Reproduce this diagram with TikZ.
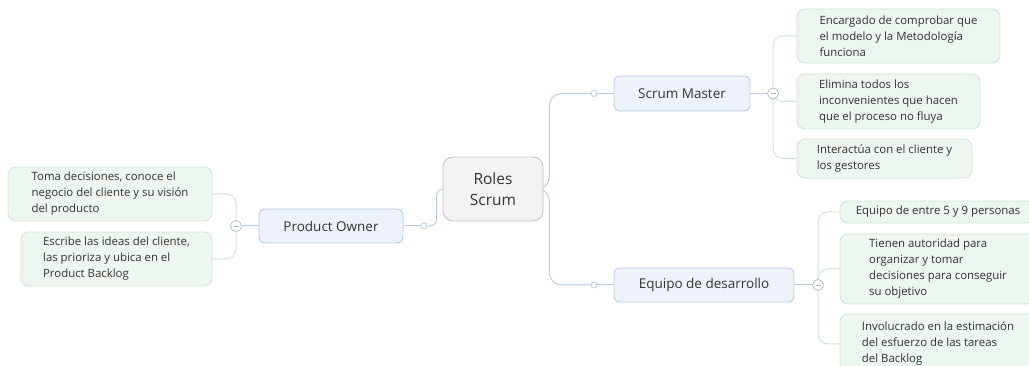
\documentclass[tikz,border=0pt]{standalone}
\usepackage{fontspec}
\setmainfont{Open Sans}
\usepackage{tikz}
\usetikzlibrary{positioning,backgrounds}
\definecolor{cInk}{HTML}{333333}
\definecolor{cRoot}{HTML}{F3F3F3}
\definecolor{cRootLn}{HTML}{C4C4C4}
\definecolor{cMain}{HTML}{EEF3FB}
\definecolor{cMainLn}{HTML}{B8CCE6}
\definecolor{cLeaf}{HTML}{EEF6F0}
\definecolor{cLeafLn}{HTML}{CFE6D5}
\definecolor{cKnob}{HTML}{A9B7C6}
\tikzset{
  blk/.style={rounded corners=6pt, align=center, text=cInk,
              inner sep=0pt, line width=0.9pt},
  blkRoot/.style={blk, draw=cRootLn, fill=cRoot, rounded corners=10pt,
              font=\fontsize{15.5}{21}\selectfont},
  blkMain/.style={blk, draw=cMainLn, fill=cMain,
              font=\fontsize{13.5}{18}\selectfont},
  blkLeaf/.style={blk, draw=cLeafLn, fill=cLeaf, align=left,
              rounded corners=8pt, font=\fontsize{11.4}{16}\selectfont},
  lnMain/.style={cMainLn, line width=1pt, rounded corners=12pt},
  lnLeaf/.style={cLeafLn, line width=1pt, rounded corners=10pt},
  dot/.style={circle, draw=cMainLn, fill=white, line width=0.8pt,
              inner sep=0pt, minimum size=6pt},
  knob/.style={circle, draw=cKnob, fill=white, line width=0.7pt,
              inner sep=0pt, minimum size=11pt,
              path picture={\draw[cKnob, line width=0.7pt]
                ([xshift=-2.5pt]path picture bounding box.center) --
                ([xshift=2.5pt]path picture bounding box.center);}}
}

\begin{document}
\begin{tikzpicture}[x=1pt, y=-1pt]
\useasboundingbox (0,0) rectangle (1029,366);
\clip (0,0) rectangle (1029,366);
% centro y ramas principales
\node[blkRoot, minimum width=100pt, minimum height=64pt] (root) at (493,189) {Roles\\Scrum};
\node[blkMain, minimum width=144pt, minimum height=34pt] (po) at (331,226) {Product Owner};
\node[blkMain, minimum width=136pt, minimum height=35pt] (sm) at (682,93.5) {Scrum Master};
\node[blkMain, minimum width=180pt, minimum height=34pt] (ed) at (704,285) {Equipo de desarrollo};
\node[dot] (dPO) at (424,226) {};
\node[dot] (dSM) at (594,93.5) {};
\node[dot] (dED) at (594,285) {};
\node[knob] (kPO) at (236,226) {};
\node[knob] (kSM) at (773,93.5) {};
\node[knob] (kED) at (818,285) {};
% hojas
\node[blkLeaf, minimum width=204pt, minimum height=54pt] (po1) at (110,194) {Toma decisiones, conoce el\\negocio del cliente y su visión\\del producto};
\node[blkLeaf, minimum width=191pt, minimum height=54pt] (po2) at (116.5,259) {Escribe las ideas del cliente,\\las prioriza y ubica en el\\Product Backlog};
\node[blkLeaf, minimum width=203pt, minimum height=54pt] (sm1) at (898.5,36) {Encargado de comprobar que\\el modelo y la Metodología\\funciona};
\node[blkLeaf, minimum width=183pt, minimum height=55pt] (sm2) at (888.5,101.5) {Elimina todos los\\inconvenientes que hacen\\que el proceso no fluya};
\node[blkLeaf, minimum width=175pt, minimum height=39pt] (sm3) at (884.5,158.5) {Interactúa con el cliente y\\los gestores};
\node[blkLeaf, minimum width=196pt, minimum height=22pt] (ed1) at (938,212) {Equipo de entre 5 y 9 personas};
\node[blkLeaf, minimum width=196pt, minimum height=70pt] (ed2) at (938,269) {Tienen autoridad para\\organizar y tomar\\decisiones para conseguir\\su objetivo};
\node[blkLeaf, minimum width=196pt, minimum height=60pt] (ed3) at (938,344) {Involucrado en la estimación\\del esfuerzo de las tareas\\del Backlog};
\begin{scope}[on background layer]
\draw[lnMain] (root.east) -- ++(6,0) |- (dSM);
\draw[lnMain] (root.east) -- ++(6,0) |- (dED);
\draw[lnMain, rounded corners=7pt] (root.west) -- ++(-6,0) |- (dPO);
\draw[lnMain](dSM)--(sm);\draw[lnMain](dED)--(ed);\draw[lnMain](dPO)--(po);
\draw[lnMain](sm)--(kSM);\draw[lnMain](ed)--(kED);\draw[lnMain](po)--(kPO);
\draw[lnLeaf] (kSM.center) |- (sm1);
\draw[lnLeaf] (kSM.center) |- (sm2);
\draw[lnLeaf] (kSM.center) |- (sm3);
\draw[lnLeaf] (kED.center) |- (ed1);
\draw[lnLeaf] (kED.center) |- (ed2);
\draw[lnLeaf] (kED.center) |- (ed3);
\draw[lnLeaf] (kPO.center) |- (po1);
\draw[lnLeaf] (kPO.center) |- (po2);
\end{scope}
\end{tikzpicture}
\end{document}
